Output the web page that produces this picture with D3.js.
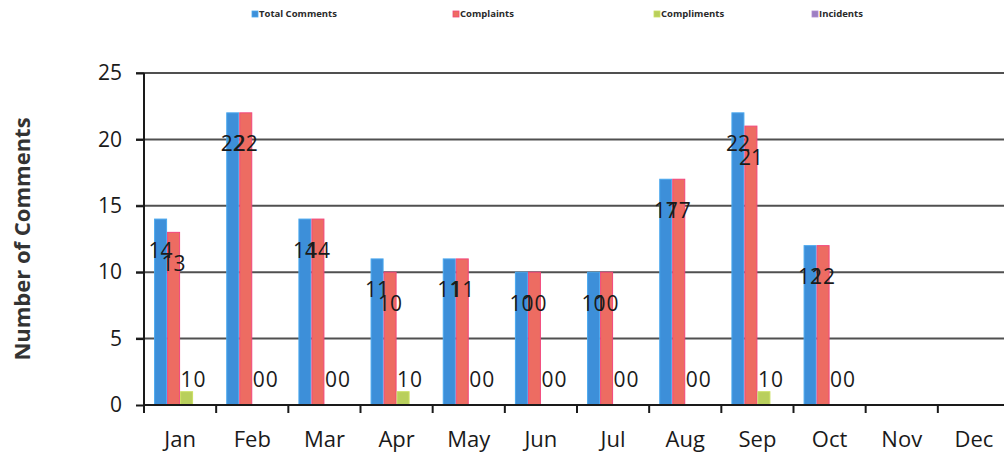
<!DOCTYPE html>
<html>
<head>
<meta charset="utf-8">
<script src="https://cdn.jsdelivr.net/npm/d3@7"></script>
<style>
  body { margin: 0; background: #fff; }
  svg { display: block; font-family: "Open Sans", sans-serif; }
</style>
</head>
<body>
<svg id="chart" width="1004" height="457"></svg>
<script>
// chart data
const months = ["Jan", "Feb", "Mar", "Apr", "May", "Jun", "Jul", "Aug", "Sep", "Oct", "Nov", "Dec"];
const seriesNames = ["Total Comments", "Complaints", "Compliments", "Incidents"];
const totalComments = [14, 22, 14, 11, 11, 10, 10, 17, 22, 12, null, null];
const complaints = [13, 22, 14, 10, 11, 10, 10, 17, 21, 12, null, null];
const compliments = [1, 0, 0, 1, 0, 0, 0, 0, 1, 0, null, null];
const incidents = [0, 0, 0, 0, 0, 0, 0, 0, 0, 0, null, null];
const yTicks = [0, 5, 10, 15, 20, 25];

const fills = ["#3d8fd9", "#ed6c62", "#b9cf5c", "#9d7fc2"];
const edges = ["#4aa8ee", "#f2467c", "#cadf62", "#b08ad0"];

const svg = d3.select("#chart");
const margin = { left: 144, top: 73, bottom: 405, right: 1010 };

const x = d3.scaleBand().domain(months).range([margin.left, margin.right]);
const y = d3.scaleLinear().domain([0, 25]).range([margin.bottom, margin.top]);
const barW = 13;
const xs = d3.scaleBand().domain(seriesNames)
  .range([0, barW * 4]);

const series = [totalComments, complaints, compliments, incidents];
const rows = [];
series.forEach((vals, s) => {
  vals.forEach((v, i) => {
    if (v !== null) rows.push({ s, month: months[i], value: v });
  });
});

// Gridlines
svg.append("g")
  .selectAll("line")
  .data(yTicks.slice(1))
  .join("line")
    .attr("x1", margin.left - 8)
    .attr("x2", 1004)
    .attr("y1", d => y(d))
    .attr("y2", d => y(d))
    .attr("stroke", "#505050")
    .attr("stroke-width", 2);

// Bars
const groupOffset = (x.bandwidth() - barW * 4) / 2;
svg.append("g")
  .selectAll("rect")
  .data(rows.filter(d => d.value > 0))
  .join("rect")
    .attr("x", d => x(d.month) + groupOffset + xs(seriesNames[d.s]) + 0.5)
    .attr("y", d => y(d.value))
    .attr("width", barW - 1)
    .attr("height", d => y(0) - y(d.value))
    .attr("fill", d => fills[d.s])
    .attr("stroke", d => edges[d.s])
    .attr("stroke-width", 1);

// Y axis
const yAxis = d3.axisLeft(y).tickValues(yTicks).tickSize(8).tickPadding(14);
const gy = svg.append("g")
  .attr("transform", `translate(${margin.left},0)`)
  .call(yAxis);
gy.select(".domain").remove();
gy.append("line")
  .attr("x1", 0).attr("x2", 0)
  .attr("y1", margin.top).attr("y2", margin.bottom + 8)
  .attr("stroke", "#1a1a1a").attr("stroke-width", 2);
gy.selectAll(".tick line").attr("stroke", "#1a1a1a").attr("stroke-width", 2);
gy.selectAll(".tick text")
  .attr("font-size", 21)
  .attr("fill", "#1a1a1a")
  .attr("font-family", "Open Sans");

// X axis
const xAxis = d3.axisBottom(x).tickSize(0).tickPadding(26);
const gx = svg.append("g")
  .attr("transform", `translate(0,${margin.bottom})`)
  .call(xAxis);
gx.select(".domain").remove();
gx.append("line")
  .attr("x1", margin.left).attr("x2", 1004)
  .attr("y1", 0).attr("y2", 0)
  .attr("stroke", "#1a1a1a").attr("stroke-width", 2);
gx.selectAll(".tick text")
  .attr("font-size", 22)
  .attr("fill", "#1a1a1a")
  .attr("font-family", "Open Sans");
gx.append("g")
  .selectAll("line")
  .data(months.slice(1))
  .join("line")
    .attr("x1", d => x(d)).attr("x2", d => x(d))
    .attr("y1", 0).attr("y2", 8)
    .attr("stroke", "#1a1a1a").attr("stroke-width", 2);

// Data labels
const labelFloor = y(0) - 26;
svg.append("g")
  .selectAll("text")
  .data(rows)
  .join("text")
    .attr("x", d => x(d.month) + groupOffset + xs(seriesNames[d.s]) + barW / 2)
    .attr("y", d => Math.min(y(d.value) + 31, labelFloor))
    .attr("dy", "0.36em")
    .attr("text-anchor", "middle")
    .attr("font-size", 21)
    .attr("fill", "#1a1a1a")
    .text(d => d.value);

// Y axis title
svg.append("text")
  .attr("transform", `translate(30,${(margin.top + margin.bottom) / 2}) rotate(-90)`)
  .attr("text-anchor", "middle")
  .attr("font-size", 22)
  .attr("font-weight", "bold")
  .attr("fill", "#333")
  .text("Number of Comments");

// Legend
const legendX = [255, 456, 657, 815];
const legend = svg.append("g")
  .selectAll("g")
  .data(seriesNames)
  .join("g")
    .attr("transform", (d, i) => `translate(${legendX[i]},14)`);
legend.append("rect")
  .attr("x", -3).attr("y", -3)
  .attr("width", 6).attr("height", 6)
  .attr("fill", (d, i) => fills[i])
  .attr("stroke", (d, i) => edges[i])
  .attr("stroke-width", 0.8);
legend.append("text")
  .attr("x", 4)
  .attr("dy", "0.35em")
  .attr("font-size", 9.5)
  .attr("font-weight", "bold")
  .attr("fill", "#2a2a2a")
  .text(d => d);
</script>
</body>
</html>
